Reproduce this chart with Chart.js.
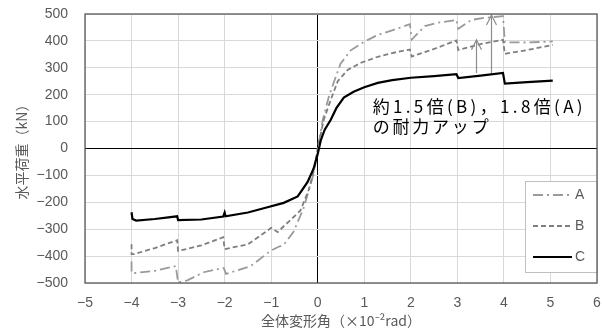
<!DOCTYPE html>
<html>
<head>
<meta charset="utf-8">
<script src="https://cdn.jsdelivr.net/npm/chart.js@4.4.0/dist/chart.umd.min.js"></script>
<style>
  html, body { margin: 0; padding: 0; background: #fff; }
  canvas { display: block; }
</style>
</head>
<body>
<canvas id="chart" width="602" height="331"></canvas>
<script>
// 各試験体の包絡線 [全体変形角(×10^-2 rad), 水平荷重(kN)]
const curveA = [
  [-4.0, -420], [-4.0, -462], [-3.95, -463], [-3.5, -455], [-3.05, -437], [-3.0, -498],
  [-2.8, -490], [-2.45, -460], [-2.02, -444], [-1.97, -466], [-1.44, -437], [-1.01, -380],
  [-0.85, -366], [-0.73, -358], [-0.52, -310], [-0.3, -220], [-0.09, -95], [0, 0],
  [0.11, 107], [0.25, 200], [0.49, 315], [0.71, 365], [0.99, 396], [1.29, 422],
  [1.63, 441], [1.98, 462], [2.02, 405], [2.3, 455], [2.6, 468], [2.98, 478],
  [3.02, 445], [3.3, 478], [3.6, 486], [3.98, 492], [4.02, 395], [4.5, 394], [5.05, 398]
];
const curveB = [
  [-4.0, -356], [-4.0, -393], [-3.95, -393], [-3.5, -370], [-3.02, -341], [-3.0, -381],
  [-2.5, -360], [-2.03, -330], [-2.0, -374], [-1.5, -356], [-1.2, -320], [-1.0, -295],
  [-0.86, -311], [-0.73, -289], [-0.58, -265], [-0.37, -230], [-0.19, -152], [-0.05, -60],
  [0, 0], [0.13, 107], [0.28, 181], [0.43, 250], [0.64, 292], [0.92, 318], [1.29, 341],
  [1.6, 355], [1.98, 368], [2.02, 342], [2.5, 370], [2.98, 402], [3.02, 366], [3.5, 388],
  [3.98, 404], [4.02, 352], [4.5, 366], [5.05, 385]
];
const curveC = [
  [-4.0, -237], [-3.98, -262], [-3.9, -268], [-3.5, -262], [-3.02, -252], [-3.0, -266],
  [-2.5, -264], [-2.03, -253], [-2.0, -238], [-1.98, -252], [-1.5, -238], [-1.16, -222],
  [-0.73, -202], [-0.43, -178], [-0.22, -125], [-0.09, -75], [0, -20], [0.065, 30],
  [0.15, 70], [0.28, 107], [0.4, 150], [0.56, 189], [0.77, 211], [1.0, 228], [1.29, 244],
  [1.6, 254], [2.0, 263], [2.5, 269], [2.98, 276], [3.02, 262], [3.5, 271], [3.98, 281],
  [4.02, 241], [4.5, 247], [5.05, 252]
];
const seriesLabels = ['A', 'B', 'C'];

// 耐力アップを示す矢印
const arrowX = [3.40, 3.73];
const arrowFrom = [281, 281];
const arrowTo = [404, 496];
const noteLines = ['約1.5倍(B)，1.8倍(A)', 'の耐力アップ'];

const xMin = -5, xMax = 6, yMin = -500, yMax = 500;

const gray = '#595959';

function minus(v) {
  return String(v).replace('-', '\u2212');
}

// 枠線・凡例・矢印・注記
const overlayPlugin = {
  id: 'overlay',
  afterDatasetsDraw(chart) {
    const { ctx, scales: { x, y } } = chart;
    ctx.save();
    // arrows
    ctx.strokeStyle = '#8c8c8c';
    ctx.lineWidth = 1.2;
    arrowX.forEach((ax, i) => {
      const px = Math.round(x.getPixelForValue(ax)) + 0.5;
      const y1 = y.getPixelForValue(arrowFrom[i]);
      const y2 = y.getPixelForValue(arrowTo[i]);
      ctx.beginPath();
      ctx.moveTo(px, y1);
      ctx.lineTo(px, y2);
      ctx.moveTo(px - 5, y2 + 10);
      ctx.lineTo(px, y2);
      ctx.lineTo(px + 5, y2 + 10);
      ctx.stroke();
    });
    // note text
    ctx.fillStyle = '#000';
    ctx.font = '17px "Noto Sans CJK JP"';
    ctx.textBaseline = 'middle';
    const nx = x.getPixelForValue(1.18);
    const widths = [210, 116];
    const ys = [155, 81];
    noteLines.forEach((t, i) => {
      ctx.letterSpacing = '0px';
      const w = ctx.measureText(t).width;
      const sp = (widths[i] - w) / (t.length - 1);
      ctx.letterSpacing = sp.toFixed(2) + 'px';
      ctx.fillText(t, nx, y.getPixelForValue(ys[i]));
    });
    ctx.letterSpacing = '0px';
    ctx.restore();
  },
  afterDraw(chart) {
    const { ctx, chartArea: a } = chart;
    ctx.save();
    // legend box
    const w = 72, h = 91;
    const x0 = a.right - w, y0 = a.bottom - 11 - h;
    ctx.fillStyle = '#fff';
    ctx.fillRect(x0, y0, w, h);
    ctx.strokeStyle = '#bfbfbf';
    ctx.lineWidth = 1;
    ctx.strokeRect(x0 + 0.5, y0 + 0.5, w, h);
    chart.data.datasets.forEach((ds, i) => {
      const ly = y0 + 14 + i * 31;
      ctx.beginPath();
      ctx.setLineDash(ds.borderDash || []);
      ctx.strokeStyle = ds.borderColor;
      ctx.lineWidth = ds.borderWidth;
      ctx.moveTo(x0 + 8, ly);
      ctx.lineTo(x0 + 47, ly);
      ctx.stroke();
      ctx.setLineDash([]);
      ctx.fillStyle = gray;
      ctx.font = '14px "Liberation Sans"';
      ctx.textBaseline = 'middle';
      ctx.fillText(ds.label, x0 + 50, ly);
    });
    // plot frame
    ctx.strokeStyle = gray;
    ctx.lineWidth = 1.3;
    ctx.strokeRect(a.left, a.top, a.right - a.left, a.bottom - a.top);
    ctx.restore();
  }
};

const ctx = document.getElementById('chart').getContext('2d');
new Chart(ctx, {
  type: 'scatter',
  data: {
    datasets: [
      {
        label: seriesLabels[0],
        data: curveA.map(p => ({ x: p[0], y: p[1] })),
        borderColor: '#9a9a9a',
        borderWidth: 1.8,
        borderDash: [10, 4, 2, 4],
        order: 2
      },
      {
        label: seriesLabels[1],
        data: curveB.map(p => ({ x: p[0], y: p[1] })),
        borderColor: '#7f7f7f',
        borderWidth: 1.8,
        borderDash: [5, 3],
        order: 1
      },
      {
        label: seriesLabels[2],
        data: curveC.map(p => ({ x: p[0], y: p[1] })),
        borderColor: '#000',
        borderWidth: 2.2,
        order: 0
      }
    ].map(d => Object.assign(d, { showLine: true, pointRadius: 0, tension: 0, fill: false }))
  },
  options: {
    responsive: false,
    animation: false,
    layout: { padding: { top: 14, right: 5, left: 0, bottom: 0 } },
    plugins: {
      legend: { display: false },
      tooltip: { enabled: false }
    },
    scales: {
      x: {
        type: 'linear',
        min: xMin,
        max: xMax,
        afterFit: s => { s.height = 48; s.paddingLeft = 0; s.paddingRight = 0; },
        ticks: {
          stepSize: 1,
          padding: 12,
          color: gray,
          font: { family: 'Liberation Sans', size: 14 },
          callback: v => minus(v)
        },
        grid: {
          color: c => (c.tick && c.tick.value === 0 ? '#000' : '#d9d9d9'),
          drawTicks: false
        },
        border: { display: false },
        title: {
          display: true,
          text: '全体変形角（×10⁻²rad）',
          color: gray,
          font: { family: 'Noto Sans CJK JP', size: 14, lineHeight: 1 },
          padding: { bottom: 3 }
        }
      },
      y: {
        type: 'linear',
        min: yMin,
        max: yMax,
        afterFit: s => { s.width = 85; s.paddingTop = 0; s.paddingBottom = 0; },
        ticks: {
          stepSize: 100,
          padding: 17,
          color: gray,
          font: { family: 'Liberation Sans', size: 14 },
          callback: v => minus(v)
        },
        grid: {
          color: c => (c.tick && c.tick.value === 0 ? '#000' : '#d9d9d9'),
          drawTicks: false
        },
        border: { display: false },
        title: {
          display: true,
          text: '水平荷重（kN）',
          color: gray,
          font: { family: 'Noto Sans CJK JP', size: 14, lineHeight: 1 },
          padding: { top: 15 }
        }
      }
    }
  },
  plugins: [overlayPlugin]
});
</script>
</body>
</html>
